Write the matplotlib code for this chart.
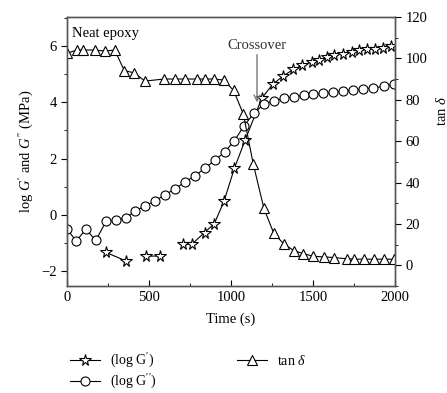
import matplotlib
matplotlib.use("Agg")
import numpy as np
import matplotlib.pyplot as plt
from matplotlib.ticker import MultipleLocator

plt.rcParams['font.family'] = ['Liberation Serif', 'DejaVu Serif']
plt.rcParams['mathtext.fontset'] = 'custom'
plt.rcParams['mathtext.rm'] = 'Liberation Serif'
plt.rcParams['mathtext.it'] = 'Liberation Serif:italic'

# log G' (stars); NaN marks a break in the connecting line
t_g1 = [238, 358, np.nan, 480, 567, np.nan, 709, 760, 838, 898, 957, 1020, 1085, 1187, 1254,
        1319, 1380, 1431, 1492, 1538, 1584, 1630, 1681, 1736, 1782, 1827, 1878, 1925, 1974]
g1 = [-1.35, -1.65, np.nan, -1.48, -1.48, np.nan, -1.06, -1.06, -0.64, -0.32, 0.48, 1.65, 2.65,
      4.15, 4.65, 4.95, 5.18, 5.32, 5.44, 5.53, 5.61, 5.68, 5.74, 5.80, 5.86, 5.89, 5.92, 5.95, 6.0]

# log G'' (circles)
t_g2 = [0, 55, 115, 175, 238, 297, 358, 415, 476, 537, 598, 659, 720, 780, 841, 900, 960, 1020,
        1079, 1140, 1203, 1264, 1325, 1384, 1445, 1502, 1563, 1624, 1685, 1746, 1807, 1868, 1929, 1990]
g2 = [-0.5, -0.95, -0.52, -0.92, -0.24, -0.2, -0.12, 0.13, 0.3, 0.5, 0.7, 0.93, 1.16, 1.38, 1.66,
      1.93, 2.23, 2.63, 3.17, 3.62, 3.95, 4.06, 4.15, 4.2, 4.25, 4.29, 4.33, 4.37, 4.41, 4.45, 4.48,
      4.52, 4.57, 4.65]

# tan delta (triangles, right axis)
t_tan = [0, 60, 100, 170, 230, 290, 350, 410, 475, 590, 655, 720, 790, 840, 895, 955, 1015, 1075,
         1135, 1200, 1260, 1320, 1385, 1440, 1500, 1565, 1625, 1705, 1750, 1810, 1870, 1930, 1990]
tan_d = [102.5, 104, 104, 104, 103.5, 104, 94, 93, 89, 90, 90, 90, 90, 90, 90, 89.5, 84.5, 73, 49,
         27.5, 15.5, 10.5, 7, 5.7, 4.4, 4.1, 3.8, 3.2, 3, 3, 3, 3, 3]

fig = plt.figure(figsize=(4.47, 3.93), dpi=100)
ax = fig.add_axes([0.150, 0.272, 0.734, 0.685])
ax2 = ax.twinx()

kw = dict(color='black', lw=0.8, markerfacecolor='white', markeredgecolor='black', markeredgewidth=0.8)
l1, = ax.plot(t_g1, g1, marker='*', ms=8.5, label=r"(log G$'$)", **kw)
l2, = ax.plot(t_g2, g2, marker='o', ms=6.5, label=r"(log G$''$)", **kw)
l3, = ax2.plot(t_tan, tan_d, marker='^', ms=7.5, label=r"tan $\delta$", **kw)

ax.set_xlim(0, 2000)
ax.set_ylim(-2.55, 7.05)
ax2.set_ylim(-10, 120)
ax.xaxis.set_major_locator(MultipleLocator(500))
ax.xaxis.set_minor_locator(MultipleLocator(250))
ax.yaxis.set_major_locator(MultipleLocator(2))
ax.yaxis.set_minor_locator(MultipleLocator(1))
ax2.yaxis.set_major_locator(MultipleLocator(20))
ax2.yaxis.set_minor_locator(MultipleLocator(10))
ax.tick_params(axis='x', which='both', direction='in', labelsize=10.5)
ax.tick_params(axis='x', which='major', length=4)
ax.tick_params(axis='x', which='minor', length=2.5)
ax.tick_params(axis='y', which='major', direction='out', length=4, labelsize=10.5)
ax.tick_params(axis='y', which='minor', direction='out', length=2.5)
ax2.tick_params(axis='y', which='major', direction='out', length=4, labelsize=10.5)
ax2.tick_params(axis='y', which='minor', direction='out', length=2.5)
for a in (ax, ax2):
    for s in a.spines.values():
        s.set_color('#555555')
        s.set_linewidth(1.0)

ax.set_xlabel("Time (s)", fontsize=10.5, labelpad=6)
ax.set_ylabel(r"log $G'$ and $G''$ (MPa)", fontsize=10.5, labelpad=4)
ax2.set_ylabel(r"tan $\delta$", fontsize=10.5, rotation=90)
ax2.yaxis.set_label_coords(1.12, 0.65)

ax.text(30, 6.45, "Neat epoxy", fontsize=10.5, ha='left', va='center')
ax.annotate("Crossover", xy=(1158, 4.0), xytext=(1158, 5.8), fontsize=10.5,
            ha='center', va='bottom', color='#333333',
            arrowprops=dict(arrowstyle='->', color='#777777', lw=1.0, shrinkA=0, shrinkB=0))

fig.legend(handles=[l1, l2, l3], loc='upper left', bbox_to_anchor=(0.14, 0.122), ncol=2,
           frameon=False, fontsize=10, handlelength=2.2, handletextpad=0.7,
           columnspacing=5.8, borderpad=0, labelspacing=0.15)

fig.savefig("out.png", dpi=100)
